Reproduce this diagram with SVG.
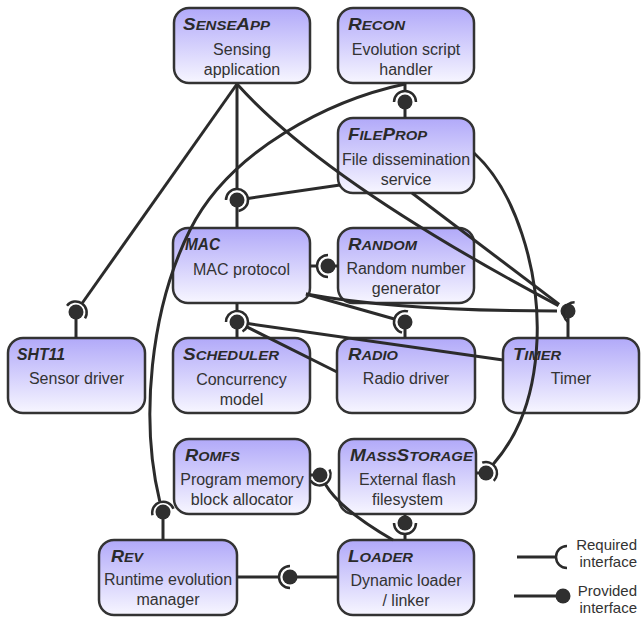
<svg xmlns="http://www.w3.org/2000/svg" width="641" height="621" viewBox="0 0 641 621">
<defs>
<linearGradient id="g" x1="0" y1="0" x2="0" y2="1">
<stop offset="0" stop-color="#b1a9f9"/>
<stop offset="1" stop-color="#f7f6ff"/>
</linearGradient>
<style>
.n{fill:url(#g);stroke:#333;stroke-width:2.5}
.t{font-family:"Liberation Sans",Arial,sans-serif;font-weight:bold;font-style:italic;font-size:16.5px;fill:#2a2a2a}
.sc{font-size:13px}
.b{font-family:"Liberation Sans",Arial,sans-serif;font-size:16px;fill:#333;text-anchor:middle}
.l{font-family:"Liberation Sans",Arial,sans-serif;font-size:15px;fill:#333;text-anchor:end}
.c{fill:none;stroke:#2b2b2b;stroke-width:3}
.s{fill:none;stroke:#2b2b2b;stroke-width:2.5}
.ball{fill:#2f2f2f}
.clr{fill:#fff}
</style>
</defs>
<g id="nodes">
<g id="senseapp"><rect class="n" x="174" y="8" width="136" height="75" rx="15"/><text class="t" x="183" y="30" textLength="87" lengthAdjust="spacingAndGlyphs">S<tspan class="sc">ENSE</tspan>A<tspan class="sc">PP</tspan></text><text class="b" x="242" y="55">Sensing</text><text class="b" x="242" y="75">application</text></g>
<g id="recon"><rect class="n" x="338" y="8" width="136" height="75" rx="15"/><text class="t" x="348" y="30" textLength="57" lengthAdjust="spacingAndGlyphs">R<tspan class="sc">ECON</tspan></text><text class="b" x="406" y="55">Evolution script</text><text class="b" x="406" y="75">handler</text></g>
<g id="fileprop"><rect class="n" x="338" y="118" width="136" height="75" rx="15"/><text class="t" x="348" y="140" textLength="79" lengthAdjust="spacingAndGlyphs">F<tspan class="sc">ILE</tspan>P<tspan class="sc">ROP</tspan></text><text class="b" x="406" y="165">File dissemination</text><text class="b" x="406" y="185">service</text></g>
<g id="mac"><rect class="n" x="173" y="228" width="137" height="75" rx="15"/><text class="t" x="185" y="250" textLength="35" lengthAdjust="spacingAndGlyphs">MAC</text><text class="b" x="241.5" y="275">MAC protocol</text></g>
<g id="random"><rect class="n" x="338" y="228" width="136" height="75" rx="15"/><text class="t" x="348" y="250" textLength="69" lengthAdjust="spacingAndGlyphs">R<tspan class="sc">ANDOM</tspan></text><text class="b" x="406" y="274">Random number</text><text class="b" x="406" y="294">generator</text></g>
<g id="sht11"><rect class="n" x="8" y="338" width="137" height="75" rx="15"/><text class="t" x="17" y="360" textLength="48" lengthAdjust="spacingAndGlyphs">SHT11</text><text class="b" x="76.5" y="384">Sensor driver</text></g>
<g id="scheduler"><rect class="n" x="173" y="338" width="137" height="75" rx="15"/><text class="t" x="183" y="360" textLength="96" lengthAdjust="spacingAndGlyphs">S<tspan class="sc">CHEDULER</tspan></text><text class="b" x="241.5" y="385">Concurrency</text><text class="b" x="241.5" y="405">model</text></g>
<g id="radio"><rect class="n" x="337" y="338" width="138" height="75" rx="15"/><text class="t" x="348" y="360" textLength="50" lengthAdjust="spacingAndGlyphs">R<tspan class="sc">ADIO</tspan></text><text class="b" x="406" y="384">Radio driver</text></g>
<g id="timer"><rect class="n" x="503" y="338" width="136" height="75" rx="15"/><text class="t" x="513" y="360" textLength="48" lengthAdjust="spacingAndGlyphs">T<tspan class="sc">IMER</tspan></text><text class="b" x="571" y="384">Timer</text></g>
<g id="romfs"><rect class="n" x="174" y="439" width="136" height="75" rx="15"/><text class="t" x="185" y="461" textLength="55" lengthAdjust="spacingAndGlyphs">R<tspan class="sc">OMFS</tspan></text><text class="b" x="242" y="485">Program memory</text><text class="b" x="242" y="505">block allocator</text></g>
<g id="massstorage"><rect class="n" x="339" y="439" width="137" height="75" rx="15"/><text class="t" x="350" y="461" textLength="123" lengthAdjust="spacingAndGlyphs">M<tspan class="sc">ASS</tspan>S<tspan class="sc">TORAGE</tspan></text><text class="b" x="407.5" y="485">External flash</text><text class="b" x="407.5" y="505">filesystem</text></g>
<g id="loader"><rect class="n" x="338" y="540" width="136" height="75" rx="15"/><text class="t" x="348" y="562" textLength="65" lengthAdjust="spacingAndGlyphs">L<tspan class="sc">OADER</tspan></text><text class="b" x="406" y="586">Dynamic loader</text><text class="b" x="406" y="606">/ linker</text></g>
<g id="rev"><rect class="n" x="99" y="540" width="138" height="75" rx="15"/><text class="t" x="111" y="562" textLength="32" lengthAdjust="spacingAndGlyphs">R<tspan class="sc">EV</tspan></text><text class="b" x="168" y="585">Runtime evolution</text><text class="b" x="168" y="605">manager</text></g>
</g>
<g id="connectors">
<path class="c" d="M237,84 L82.3,303"/>
<path class="c" d="M237,84 L237,189"/>
<path class="c" d="M237,84 Q325,182 558.4,305.6"/>
<path class="c" d="M405,83 L405,91"/>
<path class="c" d="M405,84 C330,100 230,150 190,230 C150,310 140,420 159.8,501.5"/>
<path class="c" d="M340,185 L247.9,198.4"/>
<path class="c" d="M412,193 L559.2,304.4"/>
<path class="c" d="M474,153 C515,190 540,270 537,340 C534,410 510,445 493,464.5"/>
<path class="c" d="M310,266 L317,266"/>
<path class="c" d="M306,294 L394.4,319"/>
<path class="c" d="M306,294 Q400,311 557,311"/>
<path class="c" d="M237,303 L237,311"/>
<path class="c" d="M337,372 L246.8,326.9"/>
<path class="c" d="M503,360 L247.9,323.6"/>
<path class="c" d="M325.5,484.5 Q339.7,509.1 393,540"/>
<path class="c" d="M405,540 L405,534"/>
<path class="c" d="M237,577 L279,577"/>
<!-- balls with stems -->
<g id="b-sht11"><circle class="clr" cx="76" cy="312" r="9"/><path class="c" d="M76,312 V338"/><circle class="ball" cx="76" cy="312" r="7.5"/><path class="s" d="M67,305.7 A11,11 0 0 1 85,318.3"/></g>
<g id="b-mac"><circle class="clr" cx="237" cy="200" r="9"/><path class="c" d="M237,200 V228"/><circle class="ball" cx="237" cy="200" r="7.5"/><path class="s" d="M226,200 A11,11 0 1 1 238.5,210.9"/></g>
<g id="b-random"><path class="c" d="M328,266 H338"/><circle class="ball" cx="328" cy="266" r="7.5"/><path class="s" d="M328,277 A11,11 0 0 1 328,255"/></g>
<g id="b-fileprop"><path class="c" d="M405,102 V118"/><circle class="ball" cx="405" cy="102" r="7.5"/><path class="s" d="M394,102 A11,11 0 0 1 416,102"/></g>
<g id="b-timer"><circle class="clr" cx="568" cy="311" r="9"/><path class="c" d="M568,311 V338"/><circle class="ball" cx="568" cy="311" r="7.5"/><path class="s" d="M568,322 A11,11 0 0 1 574.6,302.2"/></g>
<g id="b-radio"><circle class="clr" cx="405" cy="322" r="9"/><path class="c" d="M405,322 V338"/><circle class="ball" cx="405" cy="322" r="7.5"/><path class="s" d="M402,332.6 A11,11 0 0 1 408,311.4"/></g>
<g id="b-scheduler"><circle class="clr" cx="237" cy="322" r="9"/><path class="c" d="M237,322 V338"/><circle class="ball" cx="237" cy="322" r="7.5"/><path class="s" d="M226,322 A11,11 0 1 1 242.5,331.5"/></g>
<g id="b-mass-right"><path class="c" d="M486,473 H476"/><circle class="ball" cx="486" cy="473" r="7.5"/><path class="s" d="M482.2,462.7 A11,11 0 0 1 493.8,480.8"/></g>
<g id="b-mass-bottom"><path class="c" d="M405,523 V514"/><circle class="ball" cx="405" cy="523" r="7.5"/><path class="s" d="M416,523 A11,11 0 0 1 394,523"/></g>
<g id="b-romfs"><path class="c" d="M320,475 H310"/><circle class="ball" cx="320" cy="475" r="7.5"/><path class="s" d="M329.5,469.5 A11,11 0 0 1 310.5,480.5"/></g>
<g id="b-loader"><path class="c" d="M290,577 H338"/><circle class="ball" cx="290" cy="577" r="7.5"/><path class="s" d="M290,588 A11,11 0 0 1 290,566"/></g>
<g id="b-rev"><circle class="clr" cx="163" cy="512" r="9"/><path class="c" d="M163,512 V540"/><circle class="ball" cx="163" cy="512" r="7.5"/><path class="s" d="M152.5,515.2 A11,11 0 0 1 173.5,508.8"/></g>
</g>
<g id="legend">
<path class="c" d="M517,557 H556"/>
<path class="s" d="M567,546 A11,11 0 0 0 567,568"/>
<path class="c" d="M514,596 H560"/>
<circle class="ball" cx="563" cy="596" r="7.5"/>
<text class="l" x="637" y="550">Required</text>
<text class="l" x="637" y="567">interface</text>
<text class="l" x="637" y="596">Provided</text>
<text class="l" x="637" y="613">interface</text>
</g>
</svg>
